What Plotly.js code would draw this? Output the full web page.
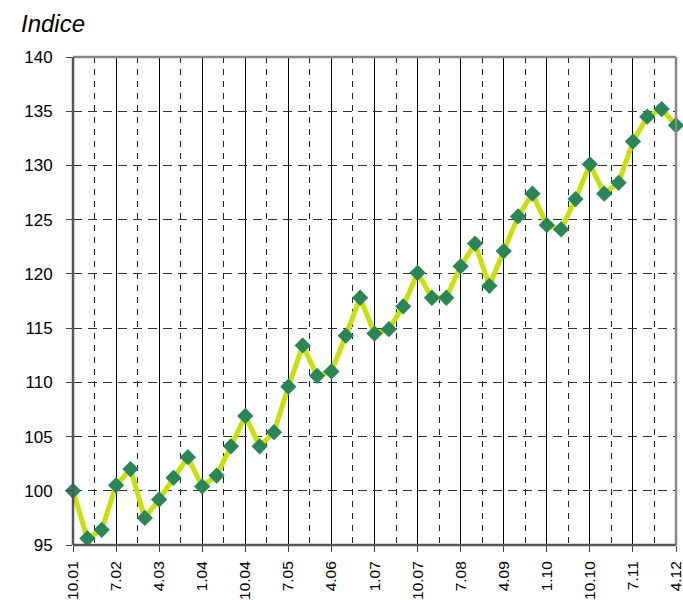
<!DOCTYPE html>
<html><head><meta charset="utf-8">
<script src="https://cdn.plot.ly/plotly-3.0.1.min.js"></script>
<style>body{margin:0;background:#fff}#c{width:683px;height:600px}</style>
</head><body><div id="c"></div>
<script>
const quarters = ["10.01","1.02","4.02","7.02","10.02","1.03","4.03","7.03","10.03","1.04","4.04","7.04","10.04","1.05","4.05","7.05","10.05","1.06","4.06","7.06","10.06","1.07","4.07","7.07","10.07","1.08","4.08","7.08","10.08","1.09","4.09","7.09","10.09","1.10","4.10","7.10","10.10","1.11","4.11","7.11","10.11","1.12","4.12"];
const values = [100,95.6,96.4,100.5,102,97.5,99.2,101.2,103.1,100.4,101.4,104.1,106.9,104.1,105.4,109.6,113.4,110.6,111,114.3,117.8,114.5,114.9,117,120.1,117.8,117.8,120.7,122.8,118.9,122.1,125.3,127.4,124.5,124.1,126.9,130.1,127.4,128.4,132.2,134.5,135.2,133.7];
const tickLabels = ["10.01","7.02","4.03","1.04","10.04","7.05","4.06","1.07","10.07","7.08","4.09","1.10","10.10","7.11","4.12"];
const idx = quarters.map((q,i)=>i);
const tickPos = tickLabels.map(l=>quarters.indexOf(l));

const FONT = 'Liberation Sans, Arial, sans-serif';
const trace = {
  x: idx, y: values, type:'scatter', mode:'lines+markers',
  line:{color:'#c8e00c', width:5},
  marker:{symbol:'diamond', size:12.5, color:'#2b8657'},
  hoverinfo:'skip', cliponaxis:false
};
const layout = {
  width:683, height:600,
  margin:{l:73, r:7, t:57, b:55},
  paper_bgcolor:'#fff', plot_bgcolor:'#fff',
  showlegend:false,
  font:{family:FONT, color:'#000', size:17},
  xaxis:{
    range:[0,42], tickmode:'array', tickvals:tickPos, ticktext:tickLabels,
    tickangle:-90, ticks:'outside', ticklen:6, tickcolor:'#444', tickwidth:1,
    ticklabeloverflow:'allow', ticklabelstandoff:3,
    showgrid:true, gridcolor:'#000', gridwidth:1,
    minor:{tickmode:'linear', tick0:1.5, dtick:3, showgrid:true, gridcolor:'#222', griddash:'6px,6px', gridwidth:1, ticks:''},
    showline:false, zeroline:false, tickfont:{size:15.5, family:FONT}
  },
  yaxis:{
    range:[95,140], dtick:5, tick0:95, ticks:'outside', ticklen:6, tickcolor:'#444',
    ticklabelstandoff:10,
    showgrid:true, gridcolor:'#333', griddash:'9px,6px', gridwidth:1,
    showline:false, zeroline:false, tickfont:{size:17, family:FONT}
  },
  shapes:[
    {type:'line', xref:'paper', yref:'paper', x0:0, x1:1, y0:1, y1:1, line:{color:'#888', width:2.5}},
    {type:'line', xref:'paper', yref:'paper', x0:1, x1:1, y0:0, y1:1, line:{color:'#888', width:2.5}},
    {type:'line', xref:'paper', yref:'paper', x0:0, x1:1, y0:0, y1:0, line:{color:'#555', width:2.5}},
    {type:'line', xref:'paper', yref:'paper', x0:0, x1:0, y0:0, y1:1, line:{color:'#555', width:2.5}}
  ],
  annotations:[
    {text:'<i>Indice</i>', xref:'paper', yref:'paper', x:-0.09, y:1.037, xanchor:'left', yanchor:'bottom', showarrow:false, font:{size:24, family:FONT}}
  ]
};
Plotly.newPlot('c',[trace],layout,{displayModeBar:false, staticPlot:true});
</script></body></html>
